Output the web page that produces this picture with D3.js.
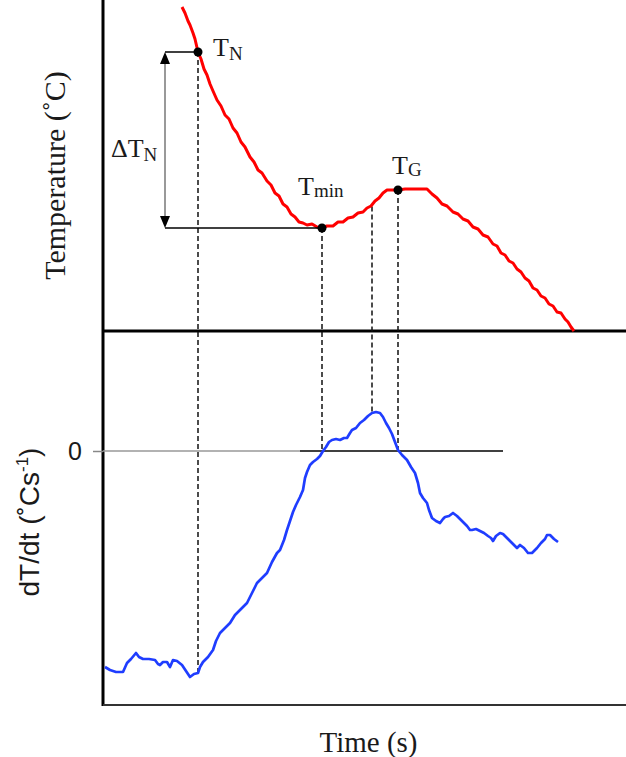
<!DOCTYPE html>
<html>
<head>
<meta charset="utf-8">
<script src="https://cdn.jsdelivr.net/npm/d3@7"></script>
<style>
  html, body { margin: 0; padding: 0; background: #fff; }
  svg { display: block; }
  .serif { font-family: "Liberation Serif", "Times New Roman", serif; fill: #1a1a1a; }
  .sans { font-family: "Liberation Sans", Arial, sans-serif; fill: #1a1a1a; }
</style>
</head>
<body>
<div id="chart"></div>
<script>
// ---- data (time in s, temperature in °C, rate in °C/s; arbitrary schematic units)
const tempCurve = [
  [39.5,32.4],[41,31.8],[42.5,31.0],[43.5,30.6],[45,29.8],[46,29.2],[47.5,27.9],[49,27.2],
  [50.5,26.2],[52,25.6],[53.5,24.7],[55,24.0],[57,23.1],[59,22.5],[61,21.6],[63,21.2],
  [65,20.3],[67,19.8],[69,18.9],[71,18.4],[73.5,17.4],[75.5,16.9],[77.5,16.1],[79.5,15.8],
  [82,15.0],[84,14.6],[86,13.8],[88,13.5],[90,12.7],[92,12.4],[94,11.7],[96,11.4],
  [98,10.9],[100,10.8],[102,10.6],[104.5,10.7],[107,10.4],[109.5,10.3],[112,10.5],[115,10.5],
  [117.5,10.9],[120,10.9],[122.5,11.3],[125,11.4],[127.5,11.8],[130,11.9],[132,12.3],[134,12.5],
  [136,13.0],[138,13.3],[140,13.8],[142,14.1],[144.5,14.1],[147.5,14.1],[151,14.2],[154.5,14.2],
  [158.5,14.2],[162,14.2],[164.5,13.7],[167,13.3],[169.5,12.7],[172,12.5],[175,11.9],[177.5,11.7],
  [180,11.2],[182.5,11.0],[185,10.4],[187.5,10.2],[190,9.6],[192.5,9.4],[195,8.7],[197,8.5],
  [199,7.8],[201,7.6],[203,7.0],[205,6.8],[207,6.2],[209,5.9],[211,5.3],[213,5.0],
  [215,4.3],[217,4.1],[219,3.5],[221,3.3],[223,2.7],[225,2.5],[227,1.9],[229,1.8],
  [231,1.2],[232.5,0.9],[234,0.4],[235.5,0.0]
];

const rateCurve = [
  [1,-2.16],[3.5,-2.19],[6.5,-2.21],[10,-2.21],[12,-2.12],[14,-2.08],[16.5,-2.02],[18,-2.06],
  [20,-2.08],[23,-2.08],[26,-2.09],[27.5,-2.13],[28.5,-2.14],[30,-2.11],[32,-2.11],[33.5,-2.16],
  [35,-2.09],[37,-2.10],[39.5,-2.14],[41.5,-2.20],[43.5,-2.26],[45.5,-2.23],[47.5,-2.22],[48.5,-2.16],
  [50,-2.11],[52.5,-2.06],[55,-1.99],[56.5,-1.90],[58.5,-1.82],[61,-1.77],[63.5,-1.72],[66,-1.64],
  [68.5,-1.59],[70.5,-1.55],[72,-1.52],[74.5,-1.42],[77,-1.32],[79.5,-1.27],[82,-1.22],[84.5,-1.11],
  [87,-1.02],[88.5,-0.99],[90.5,-0.89],[92,-0.79],[93.5,-0.70],[95,-0.61],[96.5,-0.54],[98.5,-0.46],
  [100,-0.39],[101,-0.27],[102,-0.21],[103.5,-0.14],[105,-0.11],[107,-0.08],[108.5,-0.05],[110,0.00],
  [111.5,0.04],[113,0.09],[114.5,0.11],[116.5,0.12],[118.5,0.11],[120.5,0.13],[122,0.13],[123.5,0.18],
  [124.5,0.21],[126.5,0.23],[128.5,0.28],[130.5,0.31],[132.5,0.35],[134.5,0.38],[136.5,0.39],[138.5,0.38],
  [140,0.34],[141.5,0.28],[143,0.23],[144.5,0.17],[146,0.09],[147.5,0.01],[149.5,-0.04],[152,-0.09],
  [154,-0.16],[156,-0.22],[157.5,-0.32],[158.5,-0.42],[160,-0.47],[162,-0.52],[163,-0.59],[164.5,-0.67],
  [166.5,-0.70],[168.5,-0.72],[170,-0.68],[171,-0.66],[173,-0.65],[175,-0.62],[177,-0.65],[178.5,-0.68],
  [180,-0.71],[182,-0.75],[183.5,-0.79],[184.5,-0.79],[186.5,-0.78],[188.5,-0.80],[190.5,-0.82],[192.5,-0.85],
  [194,-0.87],[195,-0.90],[196.5,-0.85],[198.5,-0.82],[200,-0.83],[201.5,-0.86],[203.5,-0.90],[205.5,-0.94],
  [207,-0.97],[208.5,-0.94],[210.5,-0.97],[212.5,-1.02],[214.5,-1.02],[217,-0.97],[219,-0.92],[221,-0.88],
  [222,-0.84],[223.5,-0.84],[225.5,-0.88],[227.5,-0.91]
];

// characteristic points: [time, temperature, rate at that time]
const eventNames = ['TN', 'Tmin', 'inflection', 'TG'];
const eventTimes = [47.5, 109.5, 134.5, 147.5];
const eventTemps = [27.9, 10.3, 12.45, 14.1];
const eventRates = [-2.22, 0.0, 0.39, 0.0];

const deltaTime = 31;            // where the ΔTN arrow stands
const zeroLineSplit = [0, 98.5, 200]; // grey part, then black part of the 0 line
const rateTicks = [0];

// ---- figure
const width = 626, height = 757;
const xScale = d3.scaleLinear([0, 261.5], [103, 626]);
const tempScale = d3.scaleLinear([0, 33.1], [331, 0]);
const rateScale = d3.scaleLinear([-2.54, 1.20], [705, 331]);

const svg = d3.select('#chart').append('svg')
  .attr('width', width).attr('height', height);

const [x0, x1] = xScale.range();

// frame lines
svg.append('line')   // left spine
  .attr('x1', x0).attr('x2', x0)
  .attr('y1', 0).attr('y2', rateScale.range()[0] + 1)
  .attr('stroke', '#000').attr('stroke-width', 3);
svg.append('line')   // divider between panels
  .attr('x1', x0).attr('x2', x1)
  .attr('y1', tempScale.range()[0]).attr('y2', tempScale.range()[0])
  .attr('stroke', '#000').attr('stroke-width', 3);
svg.append('line')   // time axis
  .attr('x1', x0).attr('x2', x1)
  .attr('y1', rateScale.range()[0]).attr('y2', rateScale.range()[0])
  .attr('stroke', '#333').attr('stroke-width', 2);

// 0 tick on rate axis
const axisY = svg.append('g')
  .attr('transform', `translate(${x0},0)`)
  .call(d3.axisLeft(rateScale).tickValues(rateTicks).tickFormat(d3.format('d'))
    .tickSize(10).tickPadding(11));
axisY.select('.domain').remove();
axisY.selectAll('.tick line').attr('stroke', '#888').attr('stroke-width', 1.5);
axisY.selectAll('.tick text')
  .attr('class', 'sans')
  .style('font-size', '25px')
  .attr('fill', '#333');

// zero reference line
svg.append('line')
  .attr('x1', xScale(zeroLineSplit[0])).attr('x2', xScale(zeroLineSplit[1]))
  .attr('y1', rateScale(0)).attr('y2', rateScale(0))
  .attr('stroke', '#999').attr('stroke-width', 1.5);
svg.append('line')
  .attr('x1', xScale(zeroLineSplit[1])).attr('x2', xScale(zeroLineSplit[2]))
  .attr('y1', rateScale(0)).attr('y2', rateScale(0))
  .attr('stroke', '#000').attr('stroke-width', 1.5);

// dashed drop lines from temperature curve to rate curve
svg.append('g').selectAll('line')
  .data(eventTimes)
  .join('line')
  .attr('x1', d => xScale(d)).attr('x2', d => xScale(d))
  .attr('y1', (d, i) => tempScale(eventTemps[i]))
  .attr('y2', (d, i) => rateScale(eventRates[i]))
  .attr('stroke', '#111')
  .attr('stroke-width', 1.5)
  .attr('stroke-dasharray', '5,3');

// curves
const tempLine = d3.line().x(d => xScale(d[0])).y(d => tempScale(d[1]));
const rateLine = d3.line().x(d => xScale(d[0])).y(d => rateScale(d[1]));

svg.append('path')
  .datum(tempCurve)
  .attr('d', tempLine)
  .attr('fill', 'none')
  .attr('stroke', '#ff0000')
  .attr('stroke-width', 3)
  .attr('stroke-linejoin', 'round');

svg.append('path')
  .datum(rateCurve)
  .attr('d', rateLine)
  .attr('fill', 'none')
  .attr('stroke', '#1f3dff')
  .attr('stroke-width', 2.7)
  .attr('stroke-linejoin', 'round');

// ΔTN bracket
const tN = eventTemps[0], tMin = eventTemps[1];
const ax = xScale(deltaTime);
svg.append('line')
  .attr('x1', ax).attr('x2', xScale(eventTimes[0]))
  .attr('y1', tempScale(tN)).attr('y2', tempScale(tN))
  .attr('stroke', '#000').attr('stroke-width', 1.5);
svg.append('line')
  .attr('x1', ax).attr('x2', xScale(eventTimes[1]))
  .attr('y1', tempScale(tMin)).attr('y2', tempScale(tMin))
  .attr('stroke', '#000').attr('stroke-width', 1.5);
svg.append('line')
  .attr('x1', ax).attr('x2', ax)
  .attr('y1', tempScale(tN) + 10).attr('y2', tempScale(tMin) - 10)
  .attr('stroke', '#777').attr('stroke-width', 1.5);
const head = 12, half = 5;
svg.append('path')
  .attr('d', `M${ax},${tempScale(tN)}L${ax - half},${tempScale(tN) + head}L${ax + half},${tempScale(tN) + head}Z`)
  .attr('fill', '#000');
svg.append('path')
  .attr('d', `M${ax},${tempScale(tMin)}L${ax - half},${tempScale(tMin) - head}L${ax + half},${tempScale(tMin) - head}Z`)
  .attr('fill', '#000');

// markers on temperature curve
const dotIdx = [0, 1, 3];
svg.append('g').selectAll('circle')
  .data(dotIdx)
  .join('circle')
  .attr('cx', i => xScale(eventTimes[i]))
  .attr('cy', i => tempScale(eventTemps[i]))
  .attr('r', 4.5)
  .attr('fill', '#000');

// point labels: main letter + subscript
function subLabel(x, y, main, sub, subSize, shift) {
  const t = svg.append('text').attr('class', 'serif')
    .attr('x', x).attr('y', y)
    .style('font-size', '26px');
  t.append('tspan').text(main);
  t.append('tspan').text(sub)
    .style('font-size', subSize + 'px')
    .attr('dy', shift);
  return t;
}
subLabel(xScale(eventTimes[0]) + 15, tempScale(tN) + 4, 'T', 'N', 19, 4);
subLabel(xScale(eventTimes[1]) - 24, tempScale(tMin) - 33, 'T', 'min', 19, 2);
subLabel(xScale(eventTimes[3]) - 6, tempScale(eventTemps[3]) - 16, 'T', 'G', 19, 2);
subLabel(111, 157, 'ΔT', 'N', 19, 4);

// axis titles
svg.append('text').attr('class', 'serif')
  .attr('transform', `translate(65,${tempScale.range()[0] / 2 + 10})rotate(-90)`)
  .attr('text-anchor', 'middle')
  .style('font-size', '30px')
  .text('Temperature (˚C)');

const yl = svg.append('text').attr('class', 'sans')
  .attr('transform', `translate(39,${(rateScale.range()[0] + rateScale.range()[1]) / 2 + 4})rotate(-90)`)
  .attr('text-anchor', 'middle')
  .style('font-size', '28px');
yl.append('tspan').text('dT/dt (˚Cs');
yl.append('tspan').text('-1').style('font-size', '17px').attr('dy', -11);
yl.append('tspan').text(')').attr('dy', 11);

svg.append('text').attr('class', 'serif')
  .attr('x', (x0 + x1) / 2 + 4).attr('y', 752)
  .attr('text-anchor', 'middle')
  .style('font-size', '29px')
  .text('Time (s)');
</script>
</body>
</html>
